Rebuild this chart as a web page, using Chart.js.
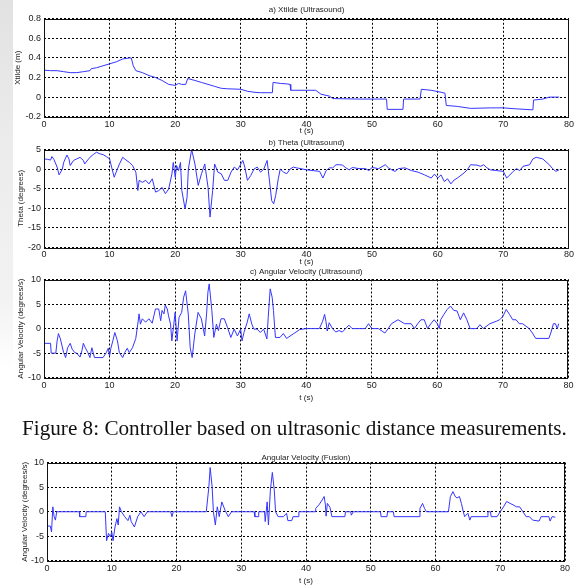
<!DOCTYPE html>
<html>
<head>
<meta charset="utf-8">
<script src="https://cdn.jsdelivr.net/npm/chart.js@4.4.0/dist/chart.umd.min.js"></script>
<style>
  html, body { margin: 0; padding: 0; background: #fff; }
  body { width: 576px; height: 587px; position: relative; overflow: hidden; }
  .strip { position: absolute; left: 0; top: 0; width: 13px; height: 370px;
           background: linear-gradient(to bottom, #e2e2e2 0%, #ececec 40%, #f2f2f2 80%, #fff 100%); }
  .plot { position: absolute; left: 0; width: 576px; }
  .caption { position: absolute; left: 22px; top: 418px; font-family: "Liberation Serif", "Times New Roman", serif;
             font-size: 21.2px; line-height: 21px; color: #111; white-space: nowrap; }
</style>
</head>
<body>
<div class="strip"></div>
<div class="plot" id="p1"><canvas id="c1"></canvas></div>
<div class="plot" id="p2"><canvas id="c2"></canvas></div>
<div class="plot" id="p3"><canvas id="c3"></canvas></div>
<div class="caption">Figure 8: Controller based on ultrasonic distance measurements.</div>
<div class="plot" id="p4"><canvas id="c4"></canvas></div>
<script>
// a) Xtilde (Ultrasound), metres
let tXtilde = [0, 1, 2, 3, 4, 5, 6, 7, 7.2, 8, 9, 10, 11, 12, 13, 13.3, 13.6, 14, 15, 16,
  17, 18, 19, 20, 20.5, 21, 21.6, 21.9, 23, 24, 25, 26, 27, 28, 30, 31, 32, 33, 34, 34.8,
  34.9, 36, 37, 37.5, 37.6, 41.4, 42.2, 43.5, 44, 48, 52.2, 52.3, 54.7, 54.8, 57.3, 57.5, 59, 60.5, 61.1, 61.3,
  63, 65, 68, 70, 72, 74.5, 74.6, 76, 77, 78.5];
let xtilde = [0.275, 0.27, 0.27, 0.26, 0.25, 0.25, 0.26, 0.27, 0.29, 0.30, 0.32, 0.34, 0.36, 0.39, 0.40, 0.40, 0.32, 0.27, 0.25, 0.22,
  0.20, 0.17, 0.13, 0.12, 0.14, 0.13, 0.13, 0.19, 0.17, 0.15, 0.13, 0.11, 0.09, 0.085, 0.08, 0.06, 0.05, 0.045, 0.045, 0.045,
  0.15, 0.14, 0.135, 0.13, 0.07, 0.07, 0.03, 0.01, -0.015, -0.02, -0.02, -0.125, -0.125, -0.02, -0.02, 0.08, 0.07, 0.05, 0.04, -0.085,
  -0.095, -0.115, -0.11, -0.11, -0.12, -0.13, -0.03, -0.02, 0.0, 0.0];

// b) Theta (Ultrasound), degrees
let tTheta = [0, 0.5, 1, 1.2, 1.5, 2, 2.3, 2.8, 3, 3.5, 3.8, 4, 4.5, 5, 5.5, 6, 6.2, 6.8, 7, 7.5,
  8, 8.5, 9, 9.5, 10, 10.3, 10.7, 11, 11.5, 12, 12.5, 13, 13.5, 14, 14.3, 14.5, 15, 15.5, 16, 16.5,
  17, 17.5, 18, 18.5, 19, 19.5, 19.7, 20, 20.2, 20.5, 20.8, 21, 21.5, 21.8, 22, 22.5, 23, 23.5, 24, 24.5,
  25, 25.3, 25.7, 26, 26.5, 27, 27.5, 28, 28.5, 29, 29.5, 30, 30.3, 30.6, 31, 31.5, 32, 32.5, 33, 33.5,
  34, 34.3, 34.7, 35, 35.3, 35.7, 36, 36.5, 37, 37.5, 38, 38.5, 40, 41, 42, 42.5, 43, 43.5, 44, 44.5,
  45, 45.5, 46, 46.5, 47, 48, 49, 49.5, 50, 51, 52, 52.5, 53, 53.5, 54, 55, 56, 57, 58, 59,
  59.5, 60, 60.5, 61, 61.5, 62, 62.5, 63, 64, 64.5, 65, 66, 66.5, 67, 67.5, 68, 69, 70, 70.5, 71,
  71.5, 72, 72.5, 73, 74, 74.5, 75, 76, 77, 77.5, 78, 78.5];
let theta = [2.6, 2.5, 2.3, 3.2, 2.5, 0.5, -1.5, 0, 1.7, 3.6, 2.6, 0.9, 2.2, 2.6, 3.0, 2.2, 1.3, 2.6, 3.0, 3.7,
  4.3, 3.9, 3.7, 3.2, 2.6, 0.5, -2.1, -0.8, 1.3, 3.0, 2.3, 1.7, 0.9, -0.8, -5.5, -2.9, -3.4, -2.9, -3.8, -2.5,
  -5.9, -5.5, -4.7, -6.3, -5.1, -1.2, 1.7, -2.1, 0.9, -0.4, 1.7, -5.5, -10.2, -7.2, 0, 5.0, 1.3, -4.2, -1.2, 1.3,
  -4.7, -12.3, -5.5, 1.3, -0.8, -1.2, -2.9, -2.9, -0.8, 0.5, -0.2, 1.3, 2.2, 0.5, -2.9, -1.7, 0, 0.5, -0.8, 0,
  2.2, -2.1, -8.1, -8.9, -6.8, -2.5, 0, -0.8, -1.2, 0, 0.5, 0.3, -0.2, -0.4, -0.6, -2.3, -0.4, 0.3, 0.3, 1.1,
  1.1, 1.0, 0.3, -0.2, 0.4, 0.1, 0.1, -0.4, 0.4, 0.1, 1.1, 0.3, -0.2, -0.6, 0.1, 0.3, -0.4, -0.8, -1.5, -2.3,
  -1.3, -2.3, -1.5, -3.2, -2.5, -3.8, -2.8, -2.3, -1.0, -0.2, 1.1, 1.0, 0.7, 1.1, 0.3, -0.2, -0.4, -0.6, -2.3, -1.5,
  -0.6, 0.1, -0.4, 0.7, 1.1, 2.6, 3.0, 2.6, 1.1, 0.1, -0.6, -0.2];

// c) Angular Velocity (Ultrasound), degrees/s
let tAngUs = [0, 1, 1.1, 1.8, 2, 2.2, 2.5, 3, 3.3, 3.6, 4, 4.3, 4.7, 5, 5.5, 5.8, 6, 6.3, 6.7, 7,
  7.3, 7.7, 9, 9.5, 9.8, 10, 10.2, 10.5, 10.8, 11.2, 11.5, 12, 12.3, 12.7, 13, 13.5, 14, 14.3, 14.5, 14.7,
  15, 15.5, 16, 16.5, 17, 17.5, 17.8, 18, 18.3, 18.5, 18.8, 19, 19.3, 19.5, 19.8, 20, 20.3, 20.6, 21, 21.3,
  21.6, 22, 22.3, 22.6, 23, 23.5, 24, 24.5, 24.8, 25, 25.2, 25.6, 25.9, 26.3, 26.6, 27, 27.5, 28, 28.5, 29,
  29.5, 30, 30.2, 30.5, 31, 31.3, 31.7, 32, 32.5, 33, 33.5, 34, 34.2, 34.5, 34.8, 35, 35.3, 36, 36.5, 37,
  38, 39, 40, 42, 42.5, 42.8, 43, 43.2, 43.5, 44, 44.5, 45, 45.5, 46, 46.5, 47, 49, 49.5, 50, 51,
  52, 52.5, 53, 54, 55, 56, 56.5, 57, 57.5, 58, 58.5, 59, 59.5, 60, 60.3, 60.5, 61, 61.5, 62, 62.5,
  63, 63.5, 64, 64.5, 65, 66, 66.5, 67, 68, 69, 69.5, 70, 70.5, 71, 71.5, 72, 72.5, 73, 74, 74.5,
  75, 77, 77.3, 77.7, 78, 78.3, 78.5];
let angUs = [-3, -3, -5, -5, -2.5, -1, -2.1, -4.9, -5.9, -3.9, -3, -4.2, -4.9, -5, -5.8, -4.4, -3, -3.9, -4.9, -5.9,
  -3.9, -5.9, -5.9, -4.9, -4, -5.6, -4, -2.5, -0.8, -2.5, -4.9, -5.9, -4.9, -4, -4.9, -3.9, -2, 0.9, 3, 0.9,
  2, 1.3, 2, 1.1, 4, 4, 1.6, 3.7, 3, 4.8, 4, 2.6, 0.9, -2.5, 0.9, 3.3, -2.5, 2.3, 3.3, 6.4,
  7.7, 3, -3.9, -5.9, -1.1, 3.3, 2, -1.5, 3, 7.4, 9.1, 3.7, -1.8, 0.9, -0.4, 2, 2, 0.2, -1.8, -0.1,
  -1.5, -0.1, -2.5, -0.8, 1.3, 3, 0.9, -0.1, -0.1, -0.8, -0.1, -2.1, 2.3, 8.1, 6.4, 3.7, -1.8, -1.8, -1, -2,
  -1.1, -0.2, 0, 0, 1.5, 2.9, 1.5, -0.5, 1.2, 0, -0.7, -0.4, -0.7, 0, 0.7, 0, 0, 1, 0, 0,
  -0.9, 0, 1, 1.8, 1, 1, 0, 1, 1.8, 1.8, 0, 1, 1.8, 1, 0, 1.8, 2.9, 3.9, 4.6, 3.7,
  3.6, 1.8, 3.2, 1.8, 0, 0, 0.8, 0, 1, 1.5, 1.8, 2.5, 3.9, 2.9, 1.8, 1.8, 1, 1, 0, -0.9,
  -2, -2, -0.9, 1, 1, 0, 1];

// Angular Velocity (Fusion), degrees/s
let tAngFu = [0, 0.5, 0.7, 0.9, 1.1, 1.3, 1.5, 5, 5.05, 6, 6.05, 9, 9.2, 9.5, 9.8, 10, 10.2, 10.5, 10.8, 11,
  11.2, 11.5, 12, 12.5, 12.8, 13, 13.5, 14, 14.5, 15, 15.5, 19.1, 19.3, 19.5, 24.6, 25, 25.2, 25.5, 25.7, 26,
  26.3, 26.6, 27, 27.5, 28, 28.5, 32, 32.1, 32.6, 32.7, 33.6, 33.7, 34, 34.2, 34.5, 34.8, 35.1, 35.3, 35.7, 36.5,
  37, 37.2, 37.8, 38, 38.8, 38.9, 41.4, 41.5, 42, 42.5, 42.8, 43, 43.1, 43.3, 43.7, 44, 46, 46.1, 46.9, 47,
  47.3, 51.5, 51.6, 52.5, 52.6, 53.5, 53.6, 57.5, 57.6, 58, 58.3, 58.6, 62, 62.3, 62.7, 63, 63.3, 63.7, 64, 64.3,
  64.5, 65, 65.3, 65.5, 68, 68.1, 68.5, 68.6, 69.5, 70, 70.5, 71, 71.5, 72, 72.5, 73, 73.5, 74, 74.5, 75,
  76, 76.3, 77.5, 77.7, 78, 78.5];
let angFu = [-2.9, -2.9, -4.1, 1, -1, -1.7, 0, 0, -1, -1, 0, 0, -5.9, -4.4, -5.1, -4.1, -5.9, -3.1, -1.4, -2.7,
  1, 0, -1, -1.8, -0.7, -2, -3.1, -1, 0, -1, 0, 0, -1, 0, 0, 5.1, 9, 5.1, 0, -2.7,
  1, -1, 2, 0.3, -1, 0, 0, -1, -1, 0, 0, -2, 2, -2.7, 4.4, 8, 4.4, 0, -1, -1,
  -0.3, -1.8, -1.8, -1, -1, 0, 0, 0.7, 1.4, 2.4, 3.1, 1.4, -0.9, 1.7, 0.9, -1, -1, 0, 0, -0.7,
  0, 0, -1, -1, 0, 0, -1, -1, 0.7, 1.7, 0.7, 0, 0, 3.1, 4.1, 3.2, 2.8, 3.1, 1.7, 0,
  -1, -0.3, -1.7, -1, -1, 0, 0, -1, -1, 0, 1, 2.1, 1.7, 1.4, 1, 1, 0, -1, -1, -1.7,
  -1.9, -1, -1, -1.9, -1, -1.1];

const FONT = '"Liberation Sans", Arial, sans-serif';
const TEXT = '#222';
const BLUE = '#3535ff';

// draws the solid box round the plot area, as in MATLAB
const framePlugin = {
  id: 'frame',
  afterDraw(chart) {
    const a = chart.chartArea;
    const ctx = chart.ctx;
    ctx.save();
    ctx.strokeStyle = '#111';
    ctx.lineWidth = 1;
    ctx.strokeRect(Math.round(a.left) + 0.5, Math.round(a.top) + 0.5,
      Math.round(a.right - a.left) - 1, Math.round(a.bottom - a.top));
    ctx.restore();
  }
};

function makePlot(n, t, v, opt) {
  const padBottom = Math.max(0, opt.titleGap - 4.8);
  const titleH = 2 + 9.6 + padBottom;
  const xH = opt.tOff + 4.8;
  const top = Math.round(opt.areaTop - titleH);
  const height = Math.round(titleH + (opt.areaBottom - opt.areaTop) + xH);
  const box = document.getElementById('p' + n);
  box.style.top = top + 'px';
  box.style.height = height + 'px';

  const points = t.map((x, i) => ({ x: x, y: v[i] }));

  new Chart(document.getElementById('c' + n), {
    type: 'line',
    data: {
      datasets: [{
        data: points,
        borderColor: BLUE,
        borderWidth: 1,
        pointRadius: 0,
        tension: 0,
        fill: false
      }]
    },
    options: {
      responsive: true,
      maintainAspectRatio: false,
      animation: false,
      layout: { padding: { left: 0, right: 576 - opt.right, top: 0, bottom: 0 } },
      plugins: {
        legend: { display: false },
        tooltip: { enabled: false },
        title: {
          display: true,
          text: opt.title,
          fullSize: false,
          color: TEXT,
          font: { family: FONT, size: 8, weight: 'normal' },
          padding: { top: 2, bottom: padBottom }
        }
      },
      scales: {
        x: {
          type: 'linear',
          min: 0,
          max: 80,
          afterFit: (s) => { s.height = xH; },
          ticks: { stepSize: 10, color: TEXT, padding: opt.tickPad, maxRotation: 0,
                   font: { family: FONT, size: 9 } },
          grid: { color: '#000', lineWidth: 1, drawTicks: false },
          border: { display: false, dash: [2, 2] },
          title: { display: true, text: 't (s)', color: TEXT, padding: 0,
                   font: { family: FONT, size: 8 } }
        },
        y: {
          min: opt.yMin,
          max: opt.yMax,
          afterFit: (s) => { s.width = opt.left; },
          ticks: { stepSize: opt.yStep, color: TEXT, padding: 3,
                   font: { family: FONT, size: 9 } },
          grid: { color: '#000', lineWidth: 1, drawTicks: false },
          border: { display: false, dash: [2, 2] },
          title: { display: true, text: opt.yTitle, color: TEXT,
                   padding: { top: opt.yTitleX - 4.8, bottom: 0 },
                   font: { family: FONT, size: 8 } }
        }
      }
    },
    plugins: [framePlugin]
  });
}

makePlot(1, tXtilde, xtilde, {
  title: 'a) Xtilde (Ultrasound)', yTitle: 'Xtilde (m)',
  yMin: -0.2, yMax: 0.8, yStep: 0.2,
  left: 44, right: 569, areaTop: 19, areaBottom: 117,
  titleGap: 9, tOff: 14.5, tickPad: 2, yTitleX: 18
});
makePlot(2, tTheta, theta, {
  title: 'b) Theta (Ultrasound)', yTitle: 'Theta (degrees)',
  yMin: -20, yMax: 5, yStep: 5,
  left: 44, right: 569, areaTop: 149, areaBottom: 247,
  titleGap: 6.7, tOff: 15, tickPad: 2, yTitleX: 20.5
});
makePlot(3, tAngUs, angUs, {
  title: 'c) Angular Velocity (Ultrasound)', yTitle: 'Angular Velocity (degrees/s)',
  yMin: -10, yMax: 10, yStep: 5,
  left: 44, right: 569, areaTop: 279, areaBottom: 377,
  titleGap: 7.7, tOff: 20.5, tickPad: 2.5, yTitleX: 20.5
});
makePlot(4, tAngFu, angFu, {
  title: 'Angular Velocity (Fusion)', yTitle: 'Angular Velocity (degrees/s)',
  yMin: -10, yMax: 10, yStep: 5,
  left: 47, right: 565, areaTop: 463, areaBottom: 561,
  titleGap: 4.7, tOff: 20.3, tickPad: 2.5, yTitleX: 25
});
</script>
</body>
</html>
